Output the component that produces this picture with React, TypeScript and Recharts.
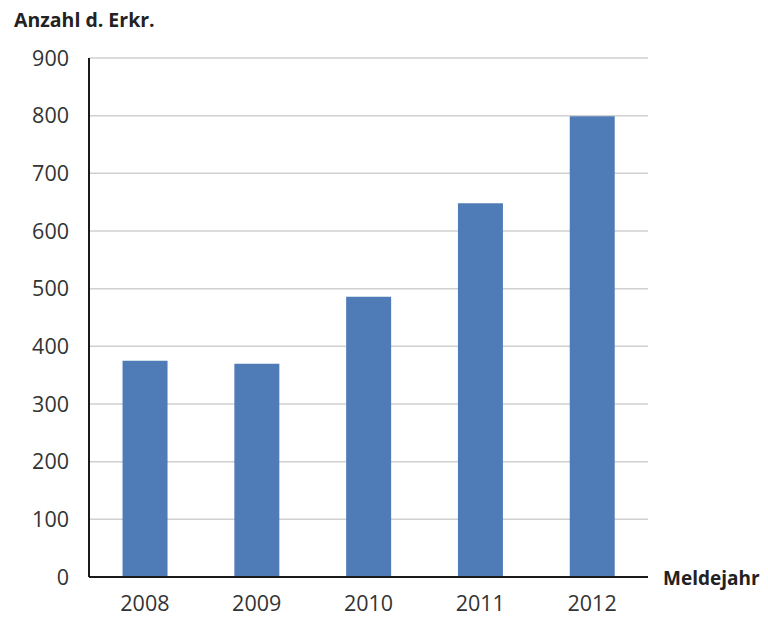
import { BarChart, Bar, XAxis, YAxis, CartesianGrid } from 'recharts';

const years = ['2008', '2009', '2010', '2011', '2012'];
const cases = [375, 370, 486, 648, 799];
const yTicks = [0, 100, 200, 300, 400, 500, 600, 700, 800, 900];

const data = years.map((year, i) => ({ year, cases: cases[i] }));

const font = '"Open Sans", sans-serif';

export default function App() {
  return (
    <div style={{ position: 'absolute', left: 0, top: 0, width: 768, height: 619, background: '#fff', fontFamily: font }}>
      <div style={{ position: 'absolute', left: 14, top: 6, fontSize: 19.5, fontWeight: 700, color: '#222' }}>
        Anzahl d. Erkr.
      </div>
      <div style={{ position: 'absolute', left: 663, top: 565, fontSize: 19, fontWeight: 700, color: '#222' }}>
        Meldejahr
      </div>
      <BarChart
        width={768}
        height={619}
        data={data}
        margin={{ top: 58, right: 120, bottom: 0, left: 0 }}
        barCategoryGap="30%"
      >
        <CartesianGrid vertical={false} stroke="#d0d0d0" strokeWidth={1.5} />
        <XAxis
          dataKey="year"
          height={42}
          tickLine={false}
          tickSize={0}
          tickMargin={19}
          axisLine={{ stroke: '#1a1a1a', strokeWidth: 2 }}
          tick={{ fill: '#333', fontSize: 21.5, fontFamily: font }}
        />
        <YAxis
          width={89}
          domain={[0, 900]}
          ticks={yTicks}
          interval={0}
          tickLine={false}
          tickSize={0}
          tickMargin={20}
          axisLine={{ stroke: '#1a1a1a', strokeWidth: 2 }}
          tick={{ fill: '#333', fontSize: 21.5, fontFamily: font }}
        />
        <Bar dataKey="cases" fill="#4f7cb6" isAnimationActive={false} />
      </BarChart>
    </div>
  );
}
